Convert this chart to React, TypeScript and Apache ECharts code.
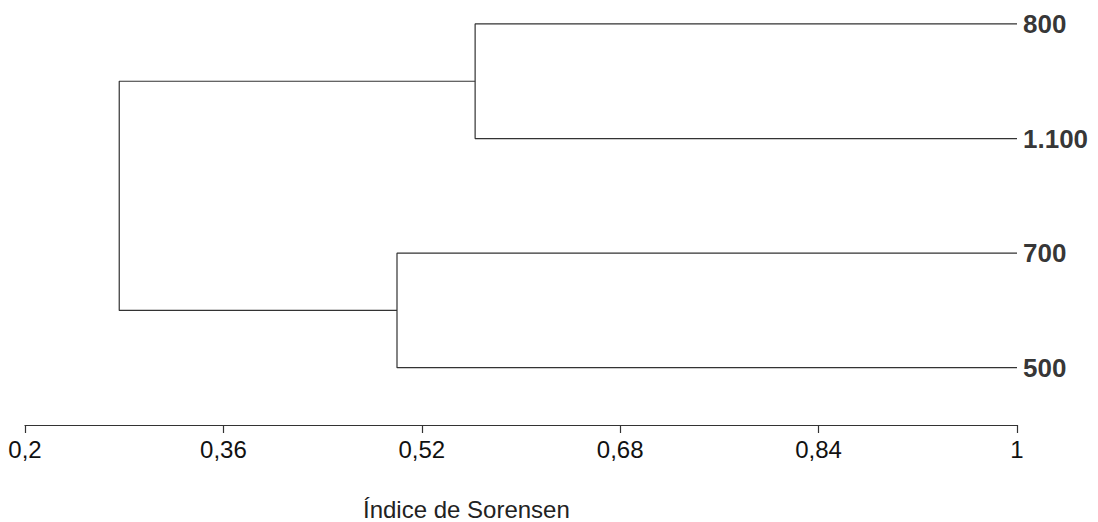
import React, { useEffect, useRef } from "react";
import * as echarts from "echarts";

// Leaves of the dendrogram (top to bottom)
const leaves = ["800", "1.100", "700", "500"];
// Merges: [child A, child B, similarity]; indices 0..3 are leaves, 4+ are clusters in merge order
const merges: [number, number, number][] = [
  [0, 1, 0.563],
  [2, 3, 0.5],
  [4, 5, 0.276],
];
const xTicks = [0.2, 0.36, 0.52, 0.68, 0.84, 1];
const xTitle = "Índice de Sorensen";

const FONT = "'Liberation Sans', Arial, sans-serif";

export default function App() {
  const ref = useRef<HTMLDivElement>(null);
  useEffect(() => {
    const chart = echarts.init(ref.current as HTMLDivElement, null, { renderer: "svg" });
    const nodes: [number, number][] = leaves.map((_, i) => [1, i]);
    const linkSeries = merges.map(([a, b, h]) => {
      const [xa, ya] = nodes[a];
      const [xb, yb] = nodes[b];
      nodes.push([h, (ya + yb) / 2]);
      return {
        type: "line",
        data: [
          [xa, ya],
          [h, ya],
          [h, yb],
          [xb, yb],
        ],
        symbol: "none",
        silent: true,
        clip: false,
        lineStyle: { color: "#333", width: 1.2 },
      };
    });
    chart.setOption({
      animation: false,
      backgroundColor: "#ffffff",
      title: {
        text: xTitle,
        left: 363,
        top: 499,
        padding: 0,
        textStyle: { fontFamily: FONT, fontSize: 24, lineHeight: 21, fontWeight: "normal", color: "#222" },
      },
      grid: { left: 25, right: 81, top: 12.5, bottom: 97, containLabel: false, outerBoundsMode: "none" },
      xAxis: {
        type: "value",
        position: "bottom",
        min: 0.2,
        max: 1,
        splitLine: { show: false },
        axisLine: { show: true, onZero: false, lineStyle: { color: "#333", width: 1.2 } },
        axisTick: { show: true, length: 8, customValues: xTicks, lineStyle: { color: "#333", width: 1.2 } },
        axisLabel: {
          customValues: xTicks,
          margin: 12,
          fontFamily: FONT,
          fontSize: 24,
          color: "#111",
          formatter: (v: number) => String(v).replace(".", ","),
        },
      },
      yAxis: {
        type: "value",
        inverse: true,
        min: -0.1,
        max: 3.5,
        show: false,
      },
      series: [
        ...linkSeries,
        {
          type: "scatter",
          symbolSize: 0,
          silent: true,
          clip: false,
          data: leaves.map((n, i) => ({ name: n, value: [1, i] })),
          label: {
            show: true,
            position: "right",
            distance: 6,
            formatter: "{b}",
            fontFamily: FONT,
            fontSize: 26,
            fontWeight: "bold",
            color: "#000",
          },
        },
      ],
    });
    return () => chart.dispose();
  }, []);
  return (
    <div
      ref={ref}
      style={{ position: "fixed", left: 0, top: 0, width: 1098, height: 522, background: "#fff" }}
    />
  );
}
